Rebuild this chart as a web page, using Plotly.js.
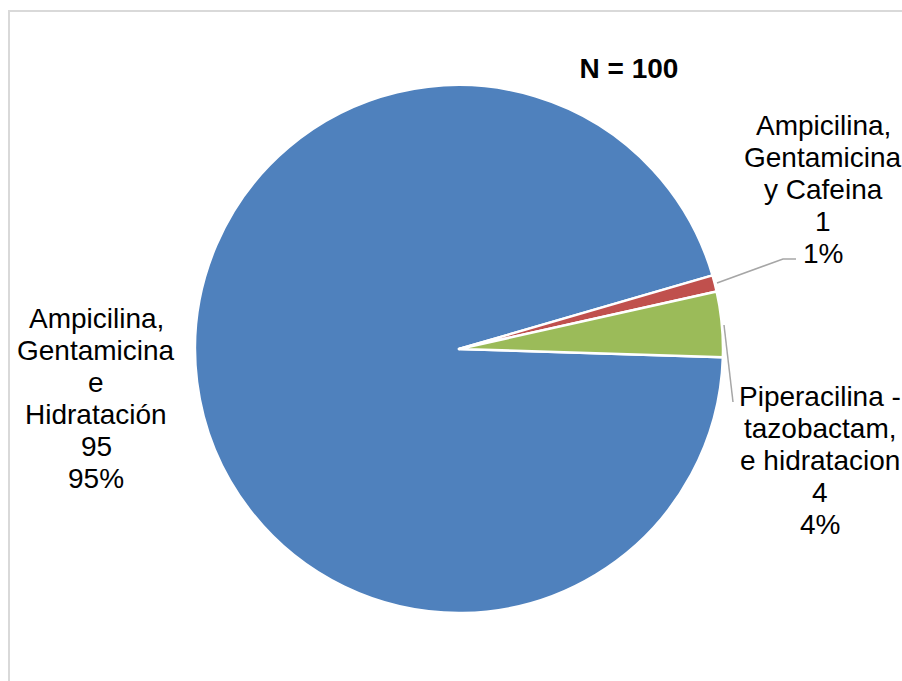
<!DOCTYPE html>
<html>
<head>
<meta charset="utf-8">
<script src="https://cdn.plot.ly/plotly-3.0.1.min.js"></script>
<style>html,body{margin:0;padding:0;background:#fff;}#chart{width:902px;height:681px;}</style>
</head>
<body>
<div id="chart"></div>
<script>
// Data
const categories = [
  "Ampicilina,<br>Gentamicina<br>e<br>Hidratación",
  "Ampicilina,<br>Gentamicina<br>y Cafeina",
  "Piperacilina -<br>tazobactam,<br>e hidratacion"
];
const values = [95, 1, 4];
const colors = ["#4F81BD", "#C0504D", "#9BBB59"];
const chartTitle = "N = 100";

const W = 902, H = 681;
const px = (x) => x / W;
const py = (y) => 1 - y / H;

const total = values.reduce((a, b) => a + b, 0);
const labelLines = categories.map((c, i) =>
  c.split("<br>").concat([String(values[i]), Math.round(values[i] / total * 100) + "%"]));

// label block centres (layout only)
const labelPos = [[96, 398.5], [823, 189.5], [820, 460.5]];
const lineGap = 32;

const font = {family: "Liberation Sans, Arial, sans-serif", size: 28, color: "#000000"};

const trace = {
  type: "pie",
  labels: categories,
  values: values,
  sort: false,
  direction: "clockwise",
  rotation: 91.8,
  textinfo: "none",
  hoverinfo: "label+value+percent",
  marker: {colors: colors, line: {color: "#ffffff", width: 2.5}},
  domain: {x: [px(459 - 264), px(459 + 264)], y: [py(349 + 264), py(349 - 264)]},
  showlegend: false
};

const annotations = [];
labelLines.forEach((lines, i) => {
  const n = lines.length;
  lines.forEach((ln, k) => {
    annotations.push({
      text: ln, xref: "paper", yref: "paper",
      x: px(labelPos[i][0]), y: py(labelPos[i][1] + (k - (n - 1) / 2) * lineGap),
      xanchor: "center", yanchor: "middle", showarrow: false, font: font
    });
  });
});

const layout = {
  width: W, height: H,
  margin: {l: 0, r: 0, t: 0, b: 0},
  paper_bgcolor: "#ffffff",
  showlegend: false,
  title: {
    text: "<b>" + chartTitle + "</b>",
    font: {family: "Liberation Sans, Arial, sans-serif", size: 28, color: "#000000"},
    x: px(629), y: py(68), xanchor: "center", yanchor: "middle", xref: "paper", yref: "paper"
  },
  annotations: annotations,
  shapes: [
    {type: "rect", xref: "paper", yref: "paper", x0: px(9), y0: py(11), x1: 1.02, y1: -0.02,
     line: {color: "#d9d9d9", width: 2}, fillcolor: "rgba(0,0,0,0)"},
    {type: "path", xref: "paper", yref: "paper",
     path: "M " + px(717) + " " + py(283) + " L " + px(783) + " " + py(259) + " L " + px(796) + " " + py(259),
     line: {color: "#a6a6a6", width: 1.5}},
    {type: "path", xref: "paper", yref: "paper",
     path: "M " + px(724) + " " + py(325) + " L " + px(733) + " " + py(402),
     line: {color: "#a6a6a6", width: 1.5}}
  ]
};

Plotly.newPlot("chart", [trace], layout, {displayModeBar: false, staticPlot: true});
</script>
</body>
</html>
